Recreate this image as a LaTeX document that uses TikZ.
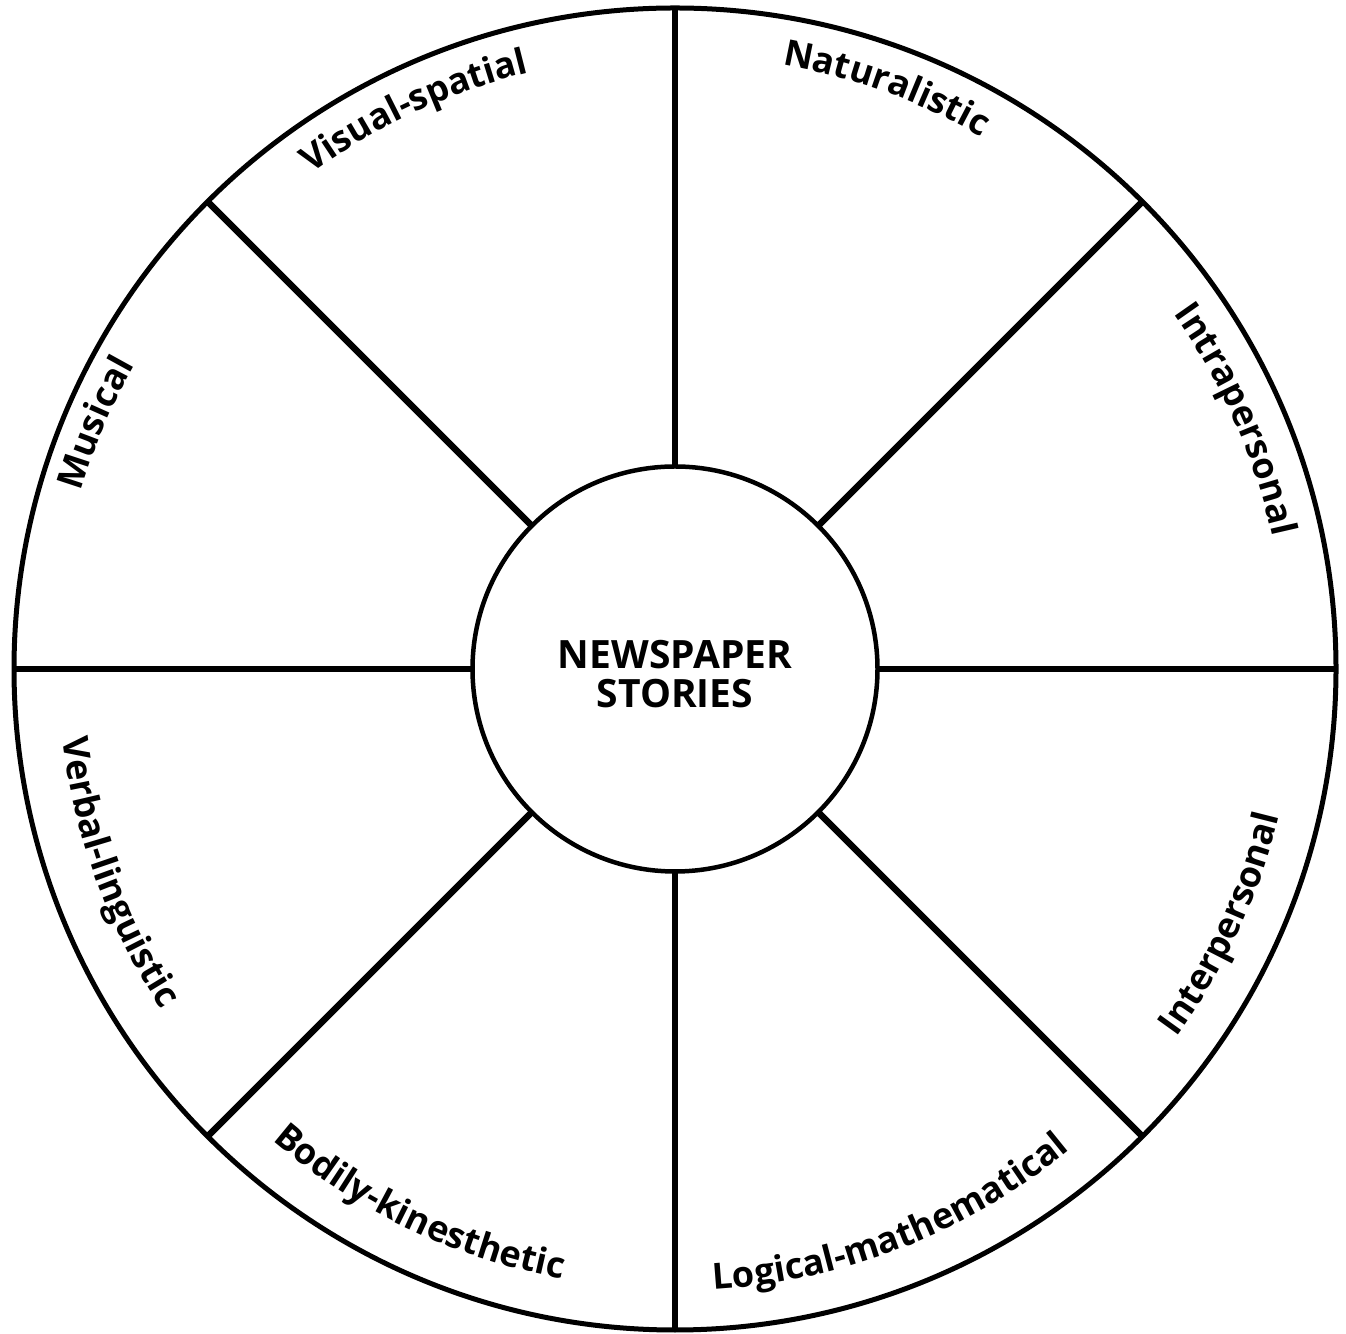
\documentclass[tikz,border=0pt]{standalone}
\usepackage{fontspec}
\setmainfont{Open Sans}
\usetikzlibrary{decorations.text}
\newcommand\lblf{\fontsize{36}{40}\selectfont\bfseries}
\newcommand\hubf{\fontsize{39}{39}\selectfont\bfseries}
\begin{document}
\begin{tikzpicture}[x=1pt,y=1pt,
  ring/.style={line width=5pt},
  spoke/.style={line width=6.5pt},
  hubring/.style={circle, draw, line width=4.5pt, fill=white, minimum size=405pt, inner sep=0pt},
  lab/.style={decorate, decoration={text along path, text={|\lblf|#1}, text align=center}},
]
\useasboundingbox (0,0) rectangle (1346,1333);
\coordinate (C) at (675,664);
\foreach \a in {0,45,...,315} \draw[spoke] (C) -- ++(\a:661);
\draw[ring] (C) circle[radius=661];
\node[hubring] (hub) at (C) {};
\node[align=center, font=\hubf] (title) at ([yshift=-5pt]C) {NEWSPAPER\\STORIES};
% upper half: clockwise, tops outward
\path[lab={Visual-spatial}] (C) ++(137:614) arc[start angle=137, end angle=93, radius=614];
\path[lab={Naturalistic}] (C) ++(92:614) arc[start angle=92, end angle=48, radius=614];
\path[lab={Intrapersonal}] (C) ++(46:612) arc[start angle=46, end angle=2, radius=612];
\path[lab={Musical}] (C) ++(179:620) arc[start angle=179, end angle=135, radius=620];
% lower half: counter-clockwise, tops inward
\path[lab={Verbal-linguistic}] (C) ++(178:616) arc[start angle=178, end angle=222, radius=616];
\path[lab={Bodily-kinesthetic}] (C) ++(222.5:620) arc[start angle=222.5, end angle=266.5, radius=620];
\path[lab={Logical-mathematical}] (C) ++(269.5:622) arc[start angle=269.5, end angle=313.5, radius=622];
\path[lab={Interpersonal}] (C) ++(313:622) arc[start angle=313, end angle=357, radius=622];
\end{tikzpicture}
\end{document}
